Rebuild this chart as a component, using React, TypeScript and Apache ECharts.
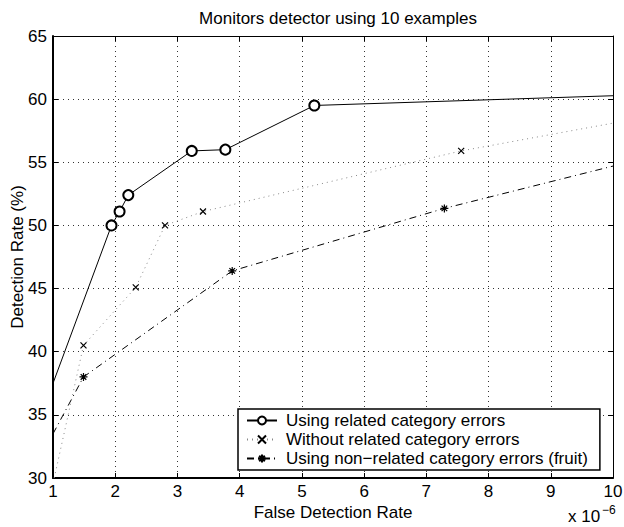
import React, { useEffect, useRef } from "react";
import * as echarts from "echarts";

const relatedX = [1.0, 1.94, 2.07, 2.21, 3.23, 3.77, 5.2, 10.0];
const relatedY = [37.5, 50.0, 51.1, 52.4, 55.9, 56.0, 59.5, 60.27];
const relatedMarked = [false, true, true, true, true, true, true, false];

const withoutX = [1.02, 1.49, 2.33, 2.8, 3.41, 7.56, 10.0];
const withoutY = [30.0, 40.5, 45.1, 50.0, 51.1, 55.9, 58.1];
const withoutMarked = [false, true, true, true, true, true, false];

const fruitX = [1.0, 1.49, 3.88, 7.29, 10.0];
const fruitY = [33.5, 38.0, 46.4, 51.35, 54.7];
const fruitMarked = [false, true, true, true, false];

const seriesNames = [
  "Using related category errors",
  "Without related category errors",
  "Using non\u2212related category errors (fruit)",
];
const titleText = "Monitors detector using 10 examples";
const xName = "False Detection Rate";
const yName = "Detection Rate (%)";
const scaleBase = "x 10";
const scaleExp = "\u22126";

const FONT = "Liberation Sans";
const FS = 17;
const X_SYM = "path://M0,0L10,10M10,0L0,10";
const STAR_SYM = "path://M5,0L5,10M0,5L10,5M1.5,1.5L8.5,8.5M8.5,1.5L1.5,8.5";

function pts(xs: number[], ys: number[], marked: boolean[]) {
  return xs.map((x, i) => ({
    value: [x, ys[i]],
    symbolSize: marked[i] ? undefined : 0,
  }));
}

export default function App() {
  const ref = useRef<HTMLDivElement>(null);
  useEffect(() => {
    const chart = echarts.init(ref.current!, null, { renderer: "svg" });
    const axisLabel = { color: "#000", fontFamily: FONT, fontSize: FS, margin: 6 };
    chart.setOption({
      animation: false,
      backgroundColor: "#fff",
      textStyle: { fontFamily: FONT },
      title: {
        text: titleText,
        left: 333,
        textAlign: "center",
        top: 5,
        textStyle: { fontFamily: FONT, fontSize: FS, fontWeight: "normal", color: "#000" },
      },
      grid: { left: 53, right: 11, top: 36, bottom: 49, containLabel: false, outerBoundsMode: "none" },
      xAxis: [
        {
          type: "value",
          min: 1,
          max: 10,
          interval: 1,
          name: xName,
          nameLocation: "middle",
          nameGap: 26,
          nameMoveOverlap: false,
          nameTextStyle: { color: "#000", fontFamily: FONT, fontSize: FS },
          axisLine: { onZero: false, lineStyle: { color: "#000", width: 2 } },
          axisTick: { inside: true, length: 5, lineStyle: { color: "#000" } },
          axisLabel: { ...axisLabel, margin: 5 },
          splitLine: { show: true, lineStyle: { color: "#333", type: [1, 4], width: 1 } },
        },
        {
          type: "value",
          position: "top",
          min: 1,
          max: 10,
          interval: 1,
          axisLine: { onZero: false, lineStyle: { color: "#000", width: 1 } },
          axisTick: { inside: true, length: 5, lineStyle: { color: "#000" } },
          axisLabel: { show: false },
          splitLine: { show: false },
        },
      ],
      yAxis: [
        {
          type: "value",
          min: 30,
          max: 65,
          interval: 5,
          name: yName,
          nameLocation: "middle",
          nameGap: 27,
          nameMoveOverlap: false,
          nameTextStyle: { color: "#000", fontFamily: FONT, fontSize: FS },
          axisLine: { show: true, onZero: false, lineStyle: { color: "#000", width: 2 } },
          axisTick: { show: true, inside: true, length: 5, lineStyle: { color: "#000" } },
          axisLabel,
          splitLine: { show: true, lineStyle: { color: "#333", type: [1, 4], width: 1 } },
        },
        {
          type: "value",
          position: "right",
          min: 30,
          max: 65,
          interval: 5,
          axisLine: { show: true, onZero: false, lineStyle: { color: "#000", width: 1 } },
          axisTick: { show: true, inside: true, length: 5, lineStyle: { color: "#000" } },
          axisLabel: { show: false },
          splitLine: { show: false },
        },
      ],
      legend: {
        orient: "vertical",
        left: 238,
        top: 409,
        padding: [3, 12, 3, 8],
        itemGap: 2,
        itemWidth: 30,
        itemHeight: 10,
        backgroundColor: "#fff",
        borderColor: "#000",
        borderWidth: 1.5,
        borderRadius: 0,
        textStyle: { fontFamily: FONT, fontSize: FS, color: "#000", padding: [0, 0, 0, 4] },
        data: seriesNames,
      },
      series: [
        {
          name: seriesNames[0],
          type: "line",
          data: pts(relatedX, relatedY, relatedMarked),
          symbol: "emptyCircle",
          symbolSize: 10,
          showAllSymbol: true,
          lineStyle: { color: "#000", width: 1 },
          itemStyle: { color: "#000", borderColor: "#000", borderWidth: 1 },
          z: 5,
        },
        {
          name: seriesNames[1],
          type: "line",
          data: pts(withoutX, withoutY, withoutMarked),
          symbol: X_SYM,
          symbolSize: 6,
          showAllSymbol: true,
          lineStyle: { color: "#888", width: 1, type: [1, 4] },
          itemStyle: { color: "#000", borderColor: "#000", borderWidth: 1.2 },
          z: 4,
        },
        {
          name: seriesNames[2],
          type: "line",
          data: pts(fruitX, fruitY, fruitMarked),
          symbol: STAR_SYM,
          symbolSize: 8,
          showAllSymbol: true,
          lineStyle: { color: "#000", width: 1, type: [7, 4, 1, 4] },
          itemStyle: { color: "#000", borderColor: "#000", borderWidth: 1.2 },
          z: 3,
        },
      ],
      graphic: [
        {
          type: "text",
          left: 568,
          top: 508,
          style: { text: scaleBase, fontFamily: FONT, fontSize: FS, fill: "#000" },
        },
        {
          type: "text",
          left: 602,
          top: 504,
          style: { text: scaleExp, fontFamily: FONT, fontSize: 12, fill: "#000" },
        },
      ],
    });
    return () => chart.dispose();
  }, []);
  return <div ref={ref} style={{ width: 624, height: 527, position: "absolute", left: 0, top: 0 }} />;
}
